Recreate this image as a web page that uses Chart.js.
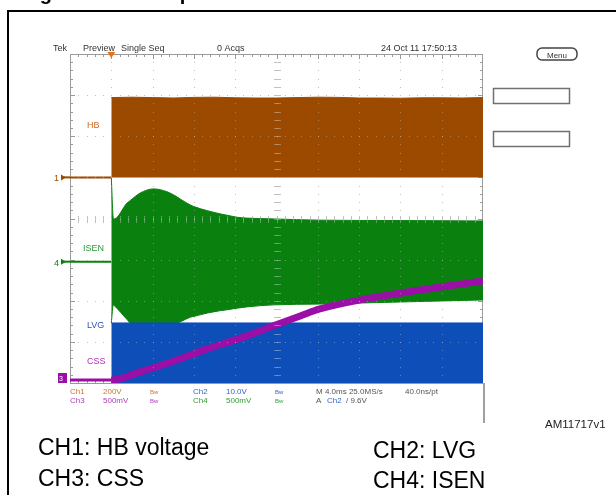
<!DOCTYPE html>
<html>
<head>
<meta charset="utf-8">
<script src="https://cdn.jsdelivr.net/npm/chart.js@4.4.1/dist/chart.umd.min.js"></script>
<style>
  html, body { margin: 0; padding: 0; background: #fff; }
  canvas { display: block; }
</style>
</head>
<body>
<canvas id="scope" width="616" height="495"></canvas>
<script>
// scope settings (per division)
const msPerDiv = 4.0;
const hbVoltsPerDiv = 200;    // Ch1
const lvgVoltsPerDiv = 10;    // Ch2
const cssVoltsPerDiv = 0.5;   // Ch3
const isenVoltsPerDiv = 0.5;  // Ch4

// ground markers, divisions from the bottom of the screen
const hbOffset = 5.0;
const isenOffset = 2.95;
const lvgOffset = 0;
const cssOffset = 0;

// time window (ms), trigger at 0
const tMin = -4;
const tMax = 36;

// Ch1 HB voltage (switching -> envelope from 0 V up to the top)
const hbTime = [0, 2, 4, 6, 8, 10, 12, 14, 16, 18, 20, 22, 24, 26, 28, 30, 32, 34, 36];
const hbTop = [388, 390, 388, 386, 389, 390, 387, 386, 386, 388, 390, 389, 386, 386, 385, 387, 387, 386, 388];

// Ch4 ISEN envelope (V)
const isenTime = [0, 0.2, 0.3, 1.5, 1.85, 2.8, 4.1, 5.4, 6.4, 6.7, 7.65, 8.0, 9.3, 10.6, 11.2, 12.2, 13.1, 15.7, 20.2, 28, 36];
const isenTop = [1.025, 0.525, 0.52, 0.71, 0.745, 0.835, 0.885, 0.85, 0.785, 0.76, 0.69, 0.67, 0.62, 0.58, 0.565, 0.54, 0.53, 0.52, 0.505, 0.50, 0.495];
const isenBottom = [-0.745, -0.525, -0.535, -0.70, -0.745, -0.745, -0.745, -0.745, -0.745, -0.73, -0.675, -0.665, -0.625, -0.595, -0.585, -0.565, -0.55, -0.525, -0.515, -0.49, -0.465];

// Ch2 LVG (switching 0 .. high level)
const lvgTime = [0, 36];
const lvgTop = [14.6, 14.6];

// Ch3 CSS ramp (V)
const cssTime = [-4, 0, 2.8, 6.0, 9.3, 12.5, 15.7, 18.3, 20.2, 24.1, 29.9, 36];
const cssVolts = [0.035, 0.035, 0.135, 0.265, 0.415, 0.545, 0.695, 0.815, 0.90, 1.01, 1.13, 1.24];

const brown = '#9c4a00';
const green = '#0a800f';
const blue = '#0d4eb8';
const purple = '#9a0fa5';

function pts(times, volts, offset, vpd) {
    return times.map((t, i) => ({ x: t, y: offset + volts[i] / vpd }));
}

const graticule = {
    id: 'graticule',
    beforeDatasetsDraw(chart) {
        drawGrid(chart, '#b4b4b4', true);
    },
    afterDatasetsDraw(chart) {
        drawGrid(chart, 'rgba(210,210,210,0.4)', false);
    }
};

function drawGrid(chart, color, withBorder) {
    const { ctx, chartArea: a } = chart;
    const dx = (a.right - a.left) / 10;
    const dy = (a.bottom - a.top) / 8;
    ctx.save();
    ctx.fillStyle = color;
    // dotted grid
    for (let i = 1; i < 10; i++) {
        const x = Math.round(a.left + i * dx);
        for (let j = 1; j < 40; j++) {
            ctx.fillRect(x, Math.round(a.top + j * dy / 5), 1, 1);
        }
    }
    for (let k = 1; k < 8; k++) {
        const y = Math.round(a.top + k * dy);
        for (let j = 1; j < 50; j++) {
            ctx.fillRect(Math.round(a.left + j * dx / 5), y, 1, 1);
        }
    }
    // centre lines with minor ticks
    const cx = Math.round(a.left + 5 * dx);
    const cy = Math.round(a.top + 4 * dy);
    for (let j = 1; j < 40; j++) {
        const y = Math.round(a.top + j * dy / 5);
        ctx.fillRect(cx - 3, y, 7, 1);
    }
    for (let j = 1; j < 50; j++) {
        const x = Math.round(a.left + j * dx / 5);
        ctx.fillRect(x, cy - 3, 1, 7);
    }
    if (withBorder) {
        ctx.fillStyle = '#9a9a9a';
        for (let j = 1; j < 40; j++) {
            const y = Math.round(a.top + j * dy / 5);
            const len = j % 5 === 0 ? 5 : 3;
            ctx.fillRect(a.left, y, len, 1);
            ctx.fillRect(a.right - len, y, len, 1);
        }
        for (let j = 1; j < 50; j++) {
            const x = Math.round(a.left + j * dx / 5);
            const len = j % 5 === 0 ? 5 : 3;
            ctx.fillRect(x, a.top, 1, len);
            ctx.fillRect(x, a.bottom - len, 1, len);
        }
        ctx.strokeStyle = '#9a9a9a';
        ctx.lineWidth = 1;
        ctx.strokeRect(a.left + 0.5, a.top + 0.5, a.right - a.left - 1, a.bottom - a.top);
    }
    ctx.restore();
}

function txt(ctx, s, x, y, color, font) {
    ctx.fillStyle = color;
    ctx.font = font;
    ctx.fillText(s, x, y);
}

const scopeText = {
    id: 'scopeText',
    afterDraw(chart) {
        const { ctx, chartArea: a, scales } = chart;
        const small = '9px "Liberation Sans", Arial, sans-serif';
        const tiny = '8px "Liberation Sans", Arial, sans-serif';
        const bw = '6px "Liberation Sans", Arial, sans-serif';
        ctx.save();
        ctx.textBaseline = 'alphabetic';

        // page frame and cut-off caption
        ctx.fillStyle = '#000';
        ctx.fillRect(7, 10, 609, 2);
        ctx.fillRect(7, 10, 2, 485);
        txt(ctx, 'Figure 13. Startup', 22, 0, '#000', 'bold 20px "Liberation Sans", Arial, sans-serif');

        // header
        txt(ctx, 'Tek', 53, 51, '#333', small);
        txt(ctx, 'Preview', 83, 51, '#333', small);
        txt(ctx, 'Single Seq', 121, 51, '#333', small);
        txt(ctx, '0 Acqs', 217, 51, '#333', small);
        txt(ctx, '24 Oct 11 17:50:13', 381, 51, '#333', small);

        // trigger position marker
        const tx = scales.x.getPixelForValue(0);
        ctx.fillStyle = '#f07010';
        ctx.beginPath();
        ctx.moveTo(tx - 4, a.top - 2);
        ctx.lineTo(tx + 4, a.top - 2);
        ctx.lineTo(tx, a.top + 4);
        ctx.closePath();
        ctx.fill();

        // menu button and side boxes
        ctx.strokeStyle = '#444';
        ctx.lineWidth = 1.5;
        ctx.beginPath();
        ctx.roundRect(537, 48, 40, 12, 5);
        ctx.stroke();
        ctx.textAlign = 'center';
        txt(ctx, 'Menu', 557, 57.5, '#333', tiny);
        ctx.textAlign = 'left';
        ctx.strokeStyle = '#707070';
        ctx.strokeRect(493.5, 88.5, 76, 15);
        ctx.strokeRect(493.5, 131.5, 76, 15);

        // separator under the screen
        ctx.fillStyle = '#a0a0a0';
        ctx.fillRect(483, a.bottom, 2, 40);

        // channel ground markers
        const y1 = scales.y.getPixelForValue(hbOffset);
        const y4 = scales.y.getPixelForValue(isenOffset);
        txt(ctx, '1', 54, y1 + 4, brown, small);
        ctx.fillStyle = brown;
        ctx.beginPath(); ctx.moveTo(61, y1 - 3); ctx.lineTo(66, y1); ctx.lineTo(61, y1 + 3); ctx.fill();
        ctx.fillRect(64, y1 - 1, 6, 2);
        txt(ctx, '4', 54, y4 + 4, green, small);
        ctx.fillStyle = green;
        ctx.beginPath(); ctx.moveTo(61, y4 - 3); ctx.lineTo(66, y4); ctx.lineTo(61, y4 + 3); ctx.fill();
        ctx.fillRect(64, y4 - 1, 6, 2);
        ctx.fillStyle = purple;
        ctx.fillRect(58, a.bottom - 10, 9, 10);
        txt(ctx, '3', 59, a.bottom - 2, '#fff', '7px "Liberation Sans", Arial, sans-serif');

        // trace labels
        txt(ctx, 'HB', 87, 128, '#d06a25', small);
        txt(ctx, 'ISEN', 83, 251, '#2b9a3a', small);
        txt(ctx, 'LVG', 87, 328, '#2a55c0', small);
        txt(ctx, 'CSS', 87, 364, '#b030b0', small);

        // readouts
        const r1 = 394, r2 = 403;
        txt(ctx, 'Ch1', 70, r1, '#c87a2a', tiny);
        txt(ctx, '200V', 103, r1, '#c87a2a', tiny);
        txt(ctx, 'Bw', 150, r1, '#c87a2a', bw);
        txt(ctx, 'Ch2', 193, r1, '#3565c5', tiny);
        txt(ctx, '10.0V', 226, r1, '#3565c5', tiny);
        txt(ctx, 'Bw', 275, r1, '#3565c5', bw);
        txt(ctx, 'M 4.0ms 25.0MS/s', 316, r1, '#555', tiny);
        txt(ctx, '40.0ns/pt', 405, r1, '#555', tiny);
        txt(ctx, 'Ch3', 70, r2, '#b040b8', tiny);
        txt(ctx, '500mV', 103, r2, '#b040b8', tiny);
        txt(ctx, 'Bw', 150, r2, '#b040b8', bw);
        txt(ctx, 'Ch4', 193, r2, '#35a035', tiny);
        txt(ctx, '500mV', 226, r2, '#35a035', tiny);
        txt(ctx, 'Bw', 275, r2, '#35a035', bw);
        txt(ctx, 'A', 316, r2, '#555', tiny);
        txt(ctx, 'Ch2', 327, r2, '#3565c5', tiny);
        txt(ctx, '/ 9.6V', 346, r2, '#555', tiny);

        // figure id and channel legend
        txt(ctx, 'AM11717v1', 545, 428, '#222', '11.5px "Liberation Sans", Arial, sans-serif');
        const big = '23px "Liberation Sans", Arial, sans-serif';
        txt(ctx, 'CH1: HB voltage', 38, 455, '#000', big);
        txt(ctx, 'CH3: CSS', 38, 486, '#000', big);
        txt(ctx, 'CH2: LVG', 373, 458, '#000', big);
        txt(ctx, 'CH4: ISEN', 373, 488, '#000', big);
        ctx.restore();
    }
};

const ctx = document.getElementById('scope').getContext('2d');
new Chart(ctx, {
    type: 'line',
    data: {
        datasets: [
            {   // CSS on top
                data: pts(cssTime, cssVolts, cssOffset, cssVoltsPerDiv),
                borderColor: purple,
                borderWidth: 7,
                segment: { borderWidth: c => c.p0.parsed.x < 0 ? 3 : 7 },
                cubicInterpolationMode: 'monotone',
                fill: false,
                order: 0
            },
            {   // LVG
                data: pts(lvgTime, lvgTop, lvgOffset, lvgVoltsPerDiv),
                borderColor: blue,
                backgroundColor: blue,
                borderWidth: 1,
                fill: { value: lvgOffset },
                order: 1
            },
            {   // ISEN upper envelope
                data: pts(isenTime, isenTop, isenOffset, isenVoltsPerDiv),
                borderColor: green,
                backgroundColor: green,
                borderWidth: 1,
                fill: '+1',
                cubicInterpolationMode: 'monotone',
                order: 2
            },
            {   // ISEN lower envelope
                data: pts(isenTime, isenBottom, isenOffset, isenVoltsPerDiv),
                borderColor: green,
                borderWidth: 1,
                fill: false,
                cubicInterpolationMode: 'monotone',
                order: 3
            },
            {   // ISEN before trigger
                data: pts([tMin, 0], [0, 0], isenOffset, isenVoltsPerDiv),
                borderColor: green,
                borderWidth: 2,
                fill: false,
                order: 4
            },
            {   // HB envelope
                data: pts(hbTime, hbTop, hbOffset, hbVoltsPerDiv),
                borderColor: brown,
                backgroundColor: brown,
                borderWidth: 1,
                fill: { value: hbOffset },
                order: 5
            },
            {   // HB before trigger
                data: pts([tMin, 0], [0, 0], hbOffset, hbVoltsPerDiv),
                borderColor: brown,
                borderWidth: 2,
                fill: false,
                order: 6
            }
        ]
    },
    options: {
        responsive: false,
        animation: false,
        devicePixelRatio: 1,
        layout: { padding: { left: 70, top: 54, right: 133, bottom: 112 } },
        elements: { point: { radius: 0 } },
        scales: {
            x: { type: 'linear', min: tMin, max: tMax, display: false },
            y: { type: 'linear', min: 0, max: 8, display: false }
        },
        plugins: {
            legend: { display: false },
            tooltip: { enabled: false }
        }
    },
    plugins: [graticule, scopeText]
});
</script>
</body>
</html>
